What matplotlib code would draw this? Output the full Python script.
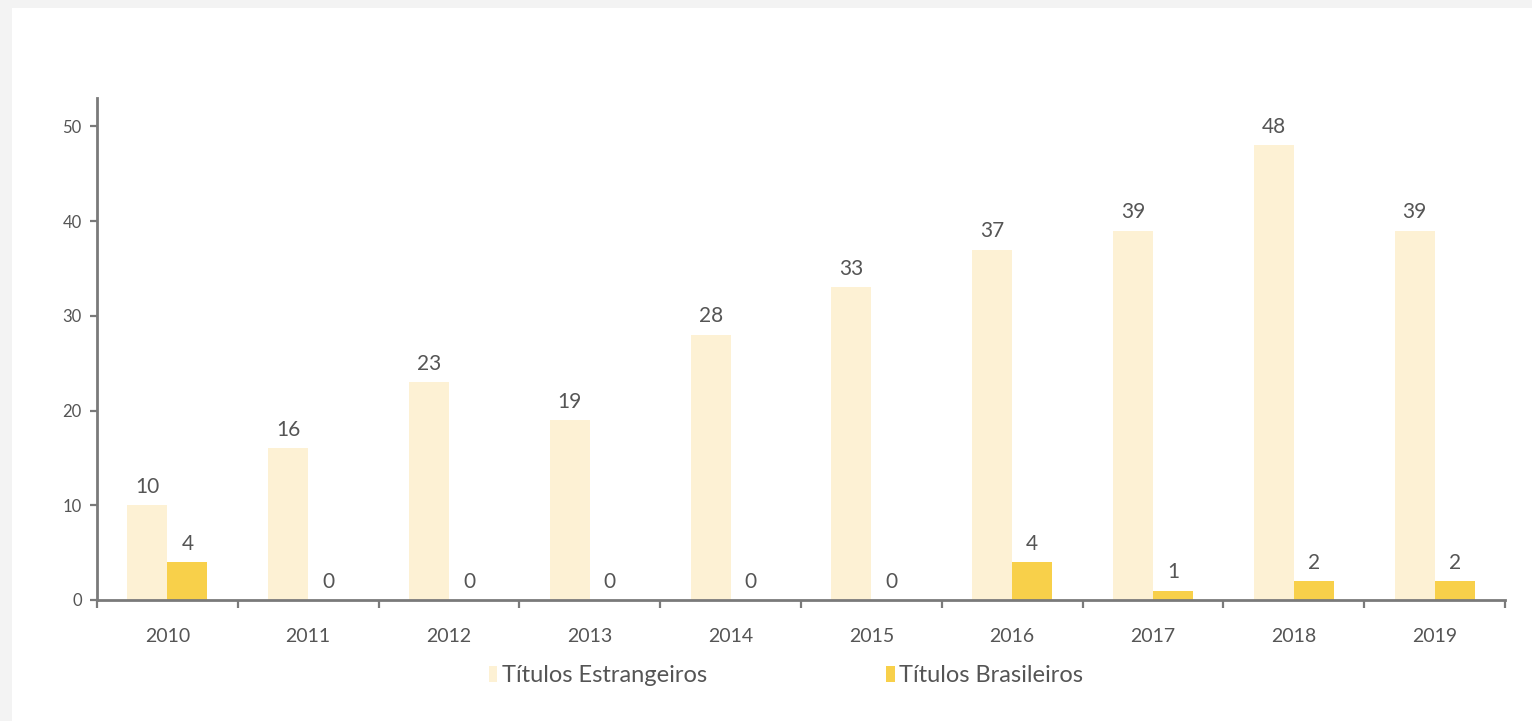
import matplotlib.pyplot as plt
import matplotlib.patches as mpatches
import numpy as np

# Yearly counts of titles
years = ["2010", "2011", "2012", "2013", "2014", "2015", "2016", "2017", "2018", "2019"]
estrangeiros = [10, 16, 23, 19, 28, 33, 37, 39, 48, 39]
brasileiros = [4, 0, 0, 0, 0, 0, 4, 1, 2, 2]

LIGHT = "#fdf1d4"
GOLD = "#f8d04a"
TEXT = "#555555"
AXIS = "#7a7a7a"

plt.rcParams["font.family"] = ["Lato", "DejaVu Sans"]

fig = plt.figure(figsize=(15.32, 7.21), dpi=100)
fig.patch.set_facecolor("white")

# light gray frame strips on the left and top edges
fig.patches.append(mpatches.Rectangle((0, 0), 12 / 1532, 1, transform=fig.transFigure,
                                      facecolor="#f3f3f3", edgecolor="none", zorder=-1))
fig.patches.append(mpatches.Rectangle((0, 1 - 8 / 721), 1, 8 / 721, transform=fig.transFigure,
                                      facecolor="#f3f3f3", edgecolor="none", zorder=-1))

ax = fig.add_axes([97 / 1532, 1 - 600 / 721, (1505 - 97) / 1532, (600 - 98) / 721])

x = np.arange(len(years))
w = 0.284
b1 = ax.bar(x - w / 2, estrangeiros, width=w, color=LIGHT, label="Títulos Estrangeiros")
b2 = ax.bar(x + w / 2, brasileiros, width=w, color=GOLD, label="Títulos Brasileiros")

for bars, vals in ((b1, estrangeiros), (b2, brasileiros)):
    for rect, v in zip(bars, vals):
        ax.annotate(str(v), (rect.get_x() + rect.get_width() / 2, v),
                    xytext=(0, 6), textcoords="offset points",
                    ha="center", va="bottom", fontsize=15, color=TEXT)

ax.set_xlim(-0.5, len(years) - 0.5)
ax.set_ylim(0, 53)
ax.set_yticks([0, 10, 20, 30, 40, 50])

# category boundaries carry the x ticks, labels sit under each group
ax.set_xticks(np.arange(len(years) + 1) - 0.5)
ax.set_xticklabels([])
ax.set_xticks(x, minor=True)
ax.set_xticklabels(years, minor=True)
ax.tick_params(axis="x", which="major", direction="out", length=6, width=1.6, color=AXIS)
ax.tick_params(axis="x", which="minor", length=0, pad=20, labelsize=14, labelcolor=TEXT)
ax.tick_params(axis="y", direction="out", length=5, width=1.6, color=AXIS,
               labelsize=12, labelcolor=TEXT, pad=6)

for side in ("top", "right"):
    ax.spines[side].set_visible(False)
for side in ("left", "bottom"):
    ax.spines[side].set_color(AXIS)
    ax.spines[side].set_linewidth(2)

fig.legend(handles=[b1, b2], loc="center", bbox_to_anchor=(786 / 1532, 1 - 676 / 721),
           ncol=2, frameon=False, fontsize=17, labelcolor=TEXT,
           handlelength=0.35, handleheight=0.65, handletextpad=0.2, columnspacing=7.6)

fig.savefig("out.png", dpi=100, facecolor=fig.get_facecolor())
